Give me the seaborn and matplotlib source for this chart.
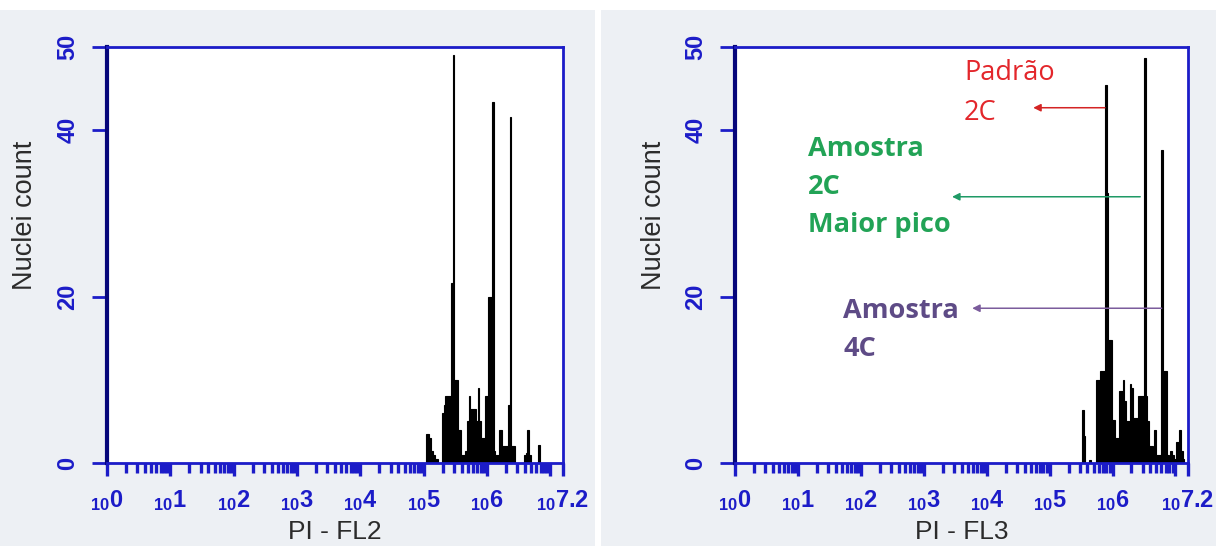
import numpy as np
import pandas as pd
import matplotlib
matplotlib.use('Agg')
import matplotlib.pyplot as plt
from matplotlib.patches import Rectangle
import seaborn as sns

# histogram channels (256 channels spread over 7.2 decades) and nuclei counts
fl2_channels = list(range(179, 243))
fl2_counts = [3.5, 3.5, 3, 1.5, 1, 0.5, 0.5, 0, 0, 6,
              7, 8, 8, 8, 21.6, 49, 10, 10, 4, 4,
              1, 1, 1.5, 5, 8, 6.5, 6.5, 6.5, 5, 9,
              5, 3, 3, 8, 8, 20, 20, 43.4, 1.5, 1,
              1, 4, 4, 2, 2, 2, 7, 41.6, 2, 2,
              0, 0, 0, 0, 0, 1, 1.2, 4, 1, 0,
              0, 0, 0, 2.2]

fl3_channels = list(range(196, 254))
fl3_counts = [6.4, 3.3, 0, 0, 0.4, 0, 0, 0, 10, 10,
              11, 11, 11, 45.4, 32.4, 14.8, 14.8, 5.2, 5.2, 3,
              3, 8.6, 8.6, 10, 7.5, 5, 5, 9.5, 9, 5.4,
              5.4, 5.4, 8, 8, 8, 48.7, 8, 5, 2, 2,
              1, 4, 1, 1, 1, 37.6, 11, 11, 1, 0.5,
              1.5, 1, 0.5, 2.5, 2.5, 4, 1.5, 0.5]

n_channels = 256
max_decade = 7.2
y_ticks = [0, 20, 40, 50]
x_tick_labels = ['$_{10}$0', '$_{10}$1', '$_{10}$2', '$_{10}$3', '$_{10}$4',
                 '$_{10}$5', '$_{10}$6', '', '$_{10}$7.2']

# annotations on the FL3 panel: text, colour, bold, text pos, arrow tail, arrow head
notes = [
    ('Padrão\n2C', '#e3262b', '#d42424', 'normal', (3.64, 48.6), (5.88, 42.7), (4.74, 42.7)),
    ('Amostra\n2C\nMaior pico', '#22a356', '#1f9a66', 'bold', (1.16, 39.3), (6.44, 32.0), (3.45, 32.0)),
    ('Amostra\n4C', '#5e4b86', '#7b5c9c', 'bold', (1.72, 19.8), (6.78, 18.6), (3.77, 18.6)),
]

sns.set_theme(style='white')
plt.rcParams['font.family'] = ['Liberation Sans', 'DejaVu Sans']
plt.rcParams['mathtext.fontset'] = 'custom'
plt.rcParams['mathtext.rm'] = 'Liberation Sans:bold'
plt.rcParams['mathtext.it'] = 'Liberation Sans:bold'
plt.rcParams['mathtext.bf'] = 'Liberation Sans:bold'

W, H = 1216, 546
fig = plt.figure(figsize=(W / 100, H / 100), dpi=100, facecolor='#edf0f4')
# white strips: top edge and gap between the two screenshots
fig.patches.append(Rectangle((0, 1 - 10 / H), 1, 10 / H, transform=fig.transFigure,
                             facecolor='white', edgecolor='none', zorder=0))
fig.patches.append(Rectangle((595 / W, 0), 6 / W, 1, transform=fig.transFigure,
                             facecolor='white', edgecolor='none', zorder=0))

ax1 = fig.add_axes([107 / W, 83 / H, 456 / W, 416 / H])
ax2 = fig.add_axes([735 / W, 83 / H, 453 / W, 416 / H])

edges = list(np.linspace(0, max_decade, n_channels + 1))
blue = '#1c1cc8'


def draw_panel(ax, channels, counts, xlabel):
    df = pd.DataFrame({
        'pos': (np.array(channels) + 0.5) * max_decade / n_channels,
        'count': counts,
    })
    sns.histplot(data=df, x='pos', weights='count', bins=edges, color='black', alpha=1,
                 edgecolor='black', linewidth=0.8, ax=ax)
    ax.set_facecolor('white')
    ax.set_xlim(0, max_decade)
    ax.set_ylim(0, 50)

    # y axis
    ax.set_yticks(y_ticks)
    ax.set_yticklabels([str(t) for t in y_ticks], rotation=90, va='center',
                       fontsize=17, fontweight='bold', color=blue,
                       family=['Liberation Sans Narrow', 'Liberation Sans'])
    ax.tick_params(axis='y', length=11, width=2, color=blue, pad=9, left=True)
    ax.set_ylabel('Nuclei count', fontsize=19.5, color='#2b2b2b')
    ax.yaxis.set_label_coords(-0.151, 0.595)

    # x axis: decades with log minor ticks
    ax.set_xticks(list(range(8)) + [max_decade])
    ax.set_xticklabels(x_tick_labels, fontsize=17, fontweight='bold', color=blue)
    ax.set_xticks([n + np.log10(k) for n in range(7) for k in range(2, 10)], minor=True)
    ax.tick_params(axis='x', which='major', length=9, width=2.4, color=blue,
                   pad=9, bottom=True)
    ax.tick_params(axis='x', which='minor', length=7.5, width=2.4, color=blue, bottom=True)
    ax.set_xlabel(xlabel, fontsize=19, color='#2b2b2b', labelpad=5)

    for side in ['top', 'right', 'bottom']:
        ax.spines[side].set_color(blue)
        ax.spines[side].set_linewidth(2)
    ax.spines['left'].set_color('#06067a')
    ax.spines['left'].set_linewidth(3)


draw_panel(ax1, fl2_channels, fl2_counts, 'PI - FL2')
draw_panel(ax2, fl3_channels, fl3_counts, 'PI - FL3')

for text, tcolor, acolor, weight, tpos, tail, head in notes:
    ax2.text(tpos[0], tpos[1], text, color=tcolor, fontsize=19.5, fontweight=weight,
             family=['Open Sans', 'DejaVu Sans'], ha='left', va='top', linespacing=1.6)
    ax2.annotate('', xy=head, xytext=tail,
                 arrowprops=dict(arrowstyle='-|>', color=acolor, lw=1.1,
                                 mutation_scale=11, shrinkA=0, shrinkB=0))

fig.savefig('out.png', dpi=100, facecolor=fig.get_facecolor())
